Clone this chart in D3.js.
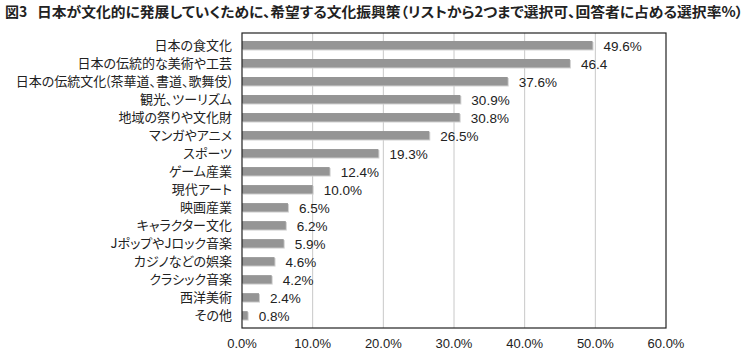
<!DOCTYPE html>
<html>
<head>
<meta charset="utf-8">
<script src="https://cdn.jsdelivr.net/npm/d3@7"></script>
<style>
  body { margin: 0; background: #fff; }
  text { font-family: "Noto Sans CJK JP", sans-serif; font-feature-settings: "palt"; }
  text.num { font-family: "Liberation Sans", Arial, sans-serif; }
</style>
</head>
<body>
<div id="chart"></div>
<script>
// 分類（上から順）
const categories = [
  '日本の食文化', '日本の伝統的な美術や工芸', '日本の伝統文化(茶華道、書道、歌舞伎)',
  '観光、ツーリズム', '地域の祭りや文化財', 'マンガやアニメ', 'スポーツ', 'ゲーム産業',
  '現代アート', '映画産業', 'キャラクター文化', 'JポップやJロック音楽', 'カジノなどの娯楽',
  'クラシック音楽', '西洋美術', 'その他'
];
const values = [49.6, 46.4, 37.6, 30.9, 30.8, 26.5, 19.3, 12.4, 10.0, 6.5, 6.2, 5.9, 4.6, 4.2, 2.4, 0.8];
const valueLabels = ['49.6%', '46.4', '37.6%', '30.9%', '30.8%', '26.5%', '19.3%', '12.4%',
  '10.0%', '6.5%', '6.2%', '5.9%', '4.6%', '4.2%', '2.4%', '0.8%'];
const ticks = [0, 10, 20, 30, 40, 50, 60];

const W = 749, H = 352;
const plot = { left: 242, right: 666, top: 33, bottom: 328 };

const svg = d3.select('#chart').append('svg')
  .attr('width', W).attr('height', H);

// タイトル
svg.append('text')
  .attr('x', 5).attr('y', 17)
  .style('font-size', '14px')
  .style('font-weight', 'bold')
  .attr('fill', '#222')
  .text('図3');
svg.append('text')
  .attr('x', 37).attr('y', 17)
  .attr('textLength', 706)
  .attr('lengthAdjust', 'spacingAndGlyphs')
  .style('font-size', '14px')
  .style('font-weight', 'bold')
  .attr('fill', '#222')
  .text('日本が文化的に発展していくために、希望する文化振興策（リストから2つまで選択可、回答者に占める選択率%）');

const x = d3.scaleLinear().domain([0, 60]).range([plot.left, plot.right]);
const y = d3.scaleBand().domain(categories).range([36.3, 324.3]).paddingInner(0.53).paddingOuter(0.26);

// グリッド線
svg.selectAll('.grid')
  .data(ticks.slice(1, -1))
  .enter().append('line')
  .attr('x1', d => x(d)).attr('x2', d => x(d))
  .attr('y1', plot.top).attr('y2', plot.bottom)
  .attr('stroke', '#c8c8c8').attr('stroke-width', 1);

// 棒の影
svg.selectAll('.shadow')
  .data(values)
  .enter().append('rect')
  .attr('x', x(0) + 1)
  .attr('y', (d, i) => y(categories[i]) + 1)
  .attr('width', d => x(d) - x(0))
  .attr('height', y.bandwidth())
  .attr('fill', '#cfcfcf');

svg.selectAll('.bar')
  .data(values)
  .enter().append('rect')
  .attr('x', x(0))
  .attr('y', (d, i) => y(categories[i]))
  .attr('width', d => x(d) - x(0))
  .attr('height', y.bandwidth())
  .attr('fill', '#959595');

// 枠
svg.append('rect')
  .attr('x', plot.left).attr('y', plot.top)
  .attr('width', plot.right - plot.left).attr('height', plot.bottom - plot.top)
  .attr('fill', 'none').attr('stroke', '#222').attr('stroke-width', 1.2);

// 値ラベル
svg.selectAll('.val')
  .data(values)
  .enter().append('text')
  .attr('class', 'num')
  .attr('x', d => x(d) + 11)
  .attr('y', (d, i) => y(categories[i]) + y.bandwidth() / 2 + 6)
  .style('font-size', '13.5px')
  .attr('fill', '#222')
  .text((d, i) => valueLabels[i]);

// 分類ラベル
svg.selectAll('.cat')
  .data(categories)
  .enter().append('text')
  .attr('x', plot.left - 10)
  .attr('y', d => y(d) + y.bandwidth() / 2 + 5)
  .attr('text-anchor', 'end')
  .style('font-size', '13px')
  .attr('fill', '#222')
  .text(d => d);

// 目盛ラベル
svg.selectAll('.tick')
  .data(ticks)
  .enter().append('text')
  .attr('class', 'num')
  .attr('x', d => x(d))
  .attr('y', 348)
  .attr('text-anchor', 'middle')
  .style('font-size', '13px')
  .attr('fill', '#222')
  .text(d => d.toFixed(1) + '%');
</script>
</body>
</html>
